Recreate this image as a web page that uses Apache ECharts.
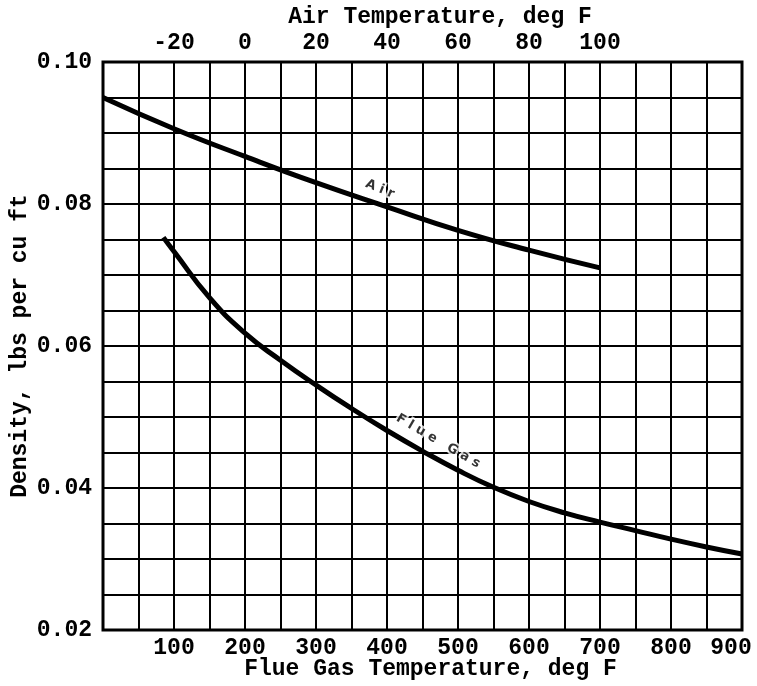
<!DOCTYPE html>
<html>
<head>
<meta charset="utf-8">
<script src="https://cdn.jsdelivr.net/npm/echarts@6/dist/echarts.min.js"></script>
<style>
  html, body { margin: 0; padding: 0; background: #fff; }
  #chart { width: 757px; height: 686px; }
</style>
</head>
<body>
<div id="chart"></div>
<script>
// Air density against air temperature (top scale, deg F)
const airTemps = [-40, -20, 0, 20, 40, 60, 80, 100];
const airDensity = [0.0950, 0.0906, 0.0867, 0.0830, 0.0796, 0.0763, 0.0735, 0.0710];

// Flue gas density against flue gas temperature (bottom scale, deg F)
const flueTemps = [85, 100, 150, 200, 250, 300, 350, 400, 450, 500, 550, 600, 650, 700, 750, 800, 850, 900];
const flueDensity = [0.0753, 0.0733, 0.0668, 0.0618, 0.0580, 0.0545, 0.0512, 0.0481, 0.0452, 0.0425,
                     0.0401, 0.0381, 0.0365, 0.0352, 0.0340, 0.0328, 0.0317, 0.0307];

// Curve captions: [temperature, density] anchor points
const airCaption = { text: 'A i r', at: [38, 0.0821] };
const flueCaption = { text: 'F l u e   G a s', at: [472, 0.0466] };

const FONT = '"Liberation Mono", "Courier New", monospace';

const chart = echarts.init(document.getElementById('chart'), null, { renderer: 'canvas' });

const pairs = (xs, ys) => xs.map((x, i) => [x, ys[i]]);

const captionLabel = (rot) => ({
  show: true,
  position: 'inside',
  formatter: p => p.name,
  rotate: rot,
  fontFamily: '"DejaVu Sans", sans-serif',
  fontWeight: 'bold',
  fontSize: 13,
  color: '#000',
  textBorderColor: '#fff',
  textBorderWidth: 4
});

chart.setOption({
  animation: false,
  backgroundColor: '#fff',
  textStyle: { fontFamily: FONT },
  grid: {
    left: 103, right: 15, top: 62, bottom: 56,
    outerBoundsMode: 'none', containLabel: false,
    show: true, borderColor: '#000', borderWidth: 3, backgroundColor: 'transparent'
  },
  xAxis: [
    {
      type: 'value', position: 'bottom', min: 0, max: 900, interval: 50,
      name: 'Flue Gas Temperature, deg F', nameLocation: 'middle', nameGap: 28, nameMoveOverlap: false,
      nameTextStyle: { fontFamily: FONT, fontSize: 23, fontWeight: 'bold', color: '#000', padding: [0, 0, 0, 16] },
      axisLine: { show: false }, axisTick: { show: false },
      axisLabel: {
        margin: 7, fontFamily: FONT, fontSize: 23, fontWeight: 'bold', color: '#000',
        showMinLabel: true, showMaxLabel: true,
        formatter: v => (v === 900) ? '{last|900}' : ((v > 0 && v % 100 === 0) ? String(v) : ''),
        rich: {
          last: { fontFamily: FONT, fontSize: 23, fontWeight: 'bold', color: '#000', padding: [0, 22, 0, 0] }
        }
      },
      splitLine: { show: true, lineStyle: { color: '#000', width: 2 } }
    },
    {
      type: 'value', position: 'top', min: -40, max: 140, interval: 20,
      name: 'Air Temperature, deg F', nameLocation: 'middle', nameGap: 33, nameMoveOverlap: false,
      nameTextStyle: { fontFamily: FONT, fontSize: 23, fontWeight: 'bold', color: '#000', padding: [0, 0, 0, 35] },
      axisLine: { show: false }, axisTick: { show: false },
      axisLabel: {
        margin: 7, fontFamily: FONT, fontSize: 23, fontWeight: 'bold', color: '#000',
        formatter: v => (v >= -20 && v <= 100) ? String(v) : ''
      },
      splitLine: { show: false }
    }
  ],
  yAxis: {
    type: 'value', min: 0.02, max: 0.10, interval: 0.005,
    name: 'Density, lbs per cu ft', nameLocation: 'middle', nameGap: 71, nameRotate: 90, nameMoveOverlap: false,
    nameTextStyle: { fontFamily: FONT, fontSize: 23, fontWeight: 'bold', color: '#000' },
    axisLine: { show: false }, axisTick: { show: false },
    axisLabel: {
      margin: 11, fontFamily: FONT, fontSize: 23, fontWeight: 'bold', color: '#000',
      formatter: v => (Math.round(v * 1000) % 20 === 0) ? v.toFixed(2) : ''
    },
    splitLine: { show: true, lineStyle: { color: '#000', width: 2 } }
  },
  series: [
    {
      name: 'Air', type: 'line', xAxisIndex: 1, smooth: true, symbol: 'none',
      lineStyle: { color: '#000', width: 5 },
      data: pairs(airTemps, airDensity), z: 3
    },
    {
      name: 'Flue Gas', type: 'line', xAxisIndex: 0, smooth: true, symbol: 'none',
      lineStyle: { color: '#000', width: 5 },
      data: pairs(flueTemps, flueDensity), z: 3
    },
    {
      type: 'scatter', xAxisIndex: 1, symbolSize: 0, z: 4, silent: true,
      label: captionLabel(-22),
      data: [{ name: airCaption.text, value: airCaption.at }]
    },
    {
      type: 'scatter', xAxisIndex: 0, symbolSize: 0, z: 4, silent: true,
      label: captionLabel(-30),
      data: [{ name: flueCaption.text, value: flueCaption.at }]
    }
  ]
});
</script>
</body>
</html>
